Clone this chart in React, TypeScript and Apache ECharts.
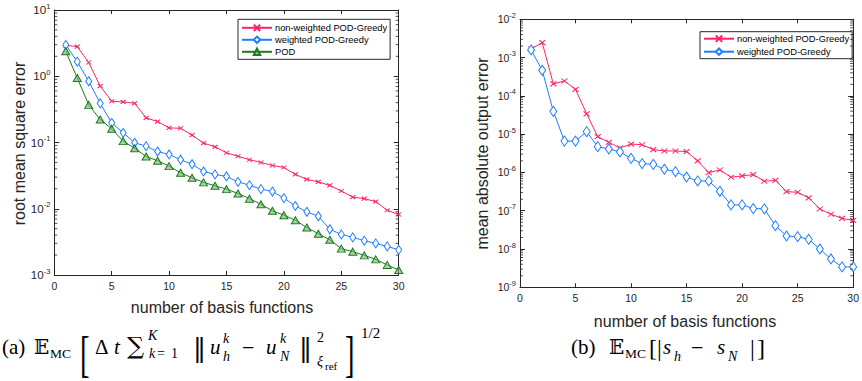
import React, { useEffect, useRef } from "react";
import * as echarts from "echarts";

// ---------- data ----------
const nBasis = [1, 2, 3, 4, 5, 6, 7, 8, 9, 10, 11, 12, 13, 14, 15, 16, 17, 18, 19, 20, 21, 22, 23, 24, 25, 26, 27, 28, 29, 30];

const seriesNames = ["non-weighted POD-Greedy", "weighted POD-Greedy", "POD"];

// (a) root mean square error
const rmsNonWeighted = [2.93, 2.8, 1.61, 0.71, 0.42, 0.41, 0.39, 0.235, 0.207, 0.166, 0.164, 0.129, 0.098, 0.086, 0.07, 0.062, 0.055, 0.05, 0.045, 0.042, 0.033, 0.0277, 0.0255, 0.0225, 0.0185, 0.015, 0.0142, 0.0128, 0.0095, 0.0082];
const rmsWeighted = [2.97, 1.66, 0.84, 0.39, 0.198, 0.14, 0.099, 0.088, 0.073, 0.066, 0.055, 0.047, 0.0365, 0.033, 0.0307, 0.0255, 0.0227, 0.0198, 0.0182, 0.0145, 0.011, 0.009, 0.0077, 0.0049, 0.0041, 0.0037, 0.0033, 0.003, 0.0027, 0.0024];
const rmsPOD = [2.38, 0.94, 0.37, 0.222, 0.161, 0.105, 0.082, 0.0615, 0.053, 0.044, 0.035, 0.0293, 0.025, 0.0222, 0.0198, 0.017, 0.0142, 0.0117, 0.0093, 0.008, 0.0067, 0.0052, 0.0042, 0.0034, 0.0025, 0.00225, 0.00198, 0.00172, 0.00142, 0.00119];

// (b) mean absolute output error
const outNonWeighted = [1.68e-3, 2.46e-3, 2.05e-4, 2.45e-4, 1.48e-4, 3.4e-5, 8.6e-6, 6.1e-6, 4.36e-6, 5.5e-6, 5.3e-6, 3.95e-6, 3.64e-6, 3.64e-6, 3.5e-6, 2.0e-6, 9.9e-7, 1.16e-6, 7.5e-7, 8.1e-7, 8.8e-7, 5.9e-7, 6.2e-7, 3.15e-7, 3.03e-7, 2.16e-7, 1.11e-7, 8.1e-8, 6.3e-8, 5.6e-8];
const outWeighted = [1.58e-3, 4.66e-4, 3.95e-5, 6.6e-6, 6.6e-6, 1.16e-5, 4.72e-6, 4.1e-6, 3.43e-6, 2.34e-6, 1.7e-6, 1.63e-6, 1.21e-6, 1.05e-6, 7.6e-7, 6.0e-7, 6.0e-7, 3.22e-7, 1.42e-7, 1.42e-7, 1.14e-7, 1.12e-7, 4.08e-8, 2.19e-8, 2.1e-8, 1.79e-8, 1.0e-8, 5.5e-9, 3.4e-9, 3.4e-9];

// axis ranges (decades)
const xTicks = [0, 5, 10, 15, 20, 25, 30];
const rmsDecades = [-3, 1];
const outDecades = [-9, -2];

// ---------- style ----------
const RED = "#ff2263";
const BLUE = "#1c7dff";
const GREEN = "#1e7a1e";
const GREEN_FILL = "rgba(110,185,110,0.6)";
const AX = "#262626";
const SANS = '"Liberation Sans", Arial, Helvetica, sans-serif';
const SERIF = '"Liberation Serif", "DejaVu Serif", serif';
const MATHSYM = '"DejaVu Serif", "DejaVu Sans", serif';

const CROSS = "path://M0,0L10,10M10,0L0,10";

function minorValues(dec: number[]) {
  const out: number[] = [];
  for (let e = dec[0]; e < dec[1]; e++) {
    for (let m = 2; m <= 9; m++) out.push(m * Math.pow(10, e));
  }
  return out;
}

function pairs(vals: number[]) {
  return nBasis.map((n, i) => [n, vals[i]]);
}

const expLabel = (v: number) => {
  const e = Math.round(Math.log10(v));
  return "{b|10}{s|" + (e < 0 ? "-" + Math.abs(e) : String(e)) + "}";
};

function axesFor(gi: number, dec: number[], labelSize: number) {
  const xCommon = {
    gridIndex: gi,
    type: "value",
    min: xTicks[0],
    max: xTicks[xTicks.length - 1],
    interval: 5,
    splitLine: { show: false },
    axisLine: { show: true, onZero: false, lineStyle: { color: AX, width: 1 } },
    axisTick: { show: true, inside: true, length: 4, lineStyle: { color: AX } },
  };
  const yCommon = {
    gridIndex: gi,
    type: "log",
    logBase: 10,
    min: Math.pow(10, dec[0]),
    max: Math.pow(10, dec[1]),
    splitNumber: dec[1] - dec[0],
    splitLine: { show: false },
    axisLine: { show: true, onZero: false, lineStyle: { color: AX, width: 1 } },
    axisTick: { show: true, inside: true, length: 5, lineStyle: { color: AX } },
  };
  return {
    x: [
      {
        ...xCommon,
        position: "bottom",
        axisLabel: { show: true, fontSize: 10.5, color: AX, fontFamily: SANS, margin: 5 },
      },
      { ...xCommon, position: "top", axisLabel: { show: false } },
    ],
    y: [
      {
        ...yCommon,
        position: "left",
        axisLabel: {
          show: true,
          margin: 4,
          formatter: expLabel,
          rich: {
            b: { fontSize: labelSize, color: AX, fontFamily: SANS, lineHeight: 16 },
            s: { fontSize: 7.5, color: AX, fontFamily: SANS, verticalAlign: "top", lineHeight: 8 },
          },
        },
      },
      { ...yCommon, position: "right", axisLabel: { show: false } },
    ],
  };
}

function minorTickSeries(xIdx: number, yIdx: number, dec: number[]) {
  return {
    type: "custom",
    xAxisIndex: xIdx,
    yAxisIndex: yIdx,
    silent: true,
    clip: false,
    z: 10,
    encode: { x: 0, y: 1 },
    data: minorValues(dec).map((v) => [xTicks[0], v]),
    renderItem: (params: any, api: any) => {
      const v = api.value(1);
      const a = api.coord([xTicks[0], v]);
      const b = api.coord([xTicks[xTicks.length - 1], v]);
      return {
        type: "group",
        children: [
          { type: "line", shape: { x1: a[0], y1: a[1], x2: a[0] + 3, y2: a[1] }, style: { stroke: AX, lineWidth: 0.8 } },
          { type: "line", shape: { x1: b[0] - 3, y1: b[1], x2: b[0], y2: b[1] }, style: { stroke: AX, lineWidth: 0.8 } },
        ],
      };
    },
  };
}

type Piece = { t: string; x: number; y: number; s: number; i?: boolean; f?: string; sx?: number; sy?: number };

const captionA: Piece[] = [
  { t: "(a)", x: 2, y: 347, s: 21 },
  { t: "\u{1D53C}", x: 34, y: 347, s: 20, f: MATHSYM },
  { t: "MC", x: 50, y: 353, s: 13.5 },
  { t: "[", x: 80, y: 354, s: 44, sx: 0.65, sy: 1.15 },
  { t: "\u0394", x: 95, y: 347, s: 21 },
  { t: "t", x: 114, y: 347, s: 21, i: true },
  { t: "\u2211", x: 127, y: 346, s: 24, f: MATHSYM },
  { t: "K", x: 148, y: 335, s: 14, i: true },
  { t: "k", x: 149, y: 353, s: 14, i: true },
  { t: "=", x: 157, y: 353, s: 14 },
  { t: "1", x: 171, y: 353, s: 14 },
  { t: "\u2016", x: 193, y: 348, s: 26, f: MATHSYM },
  { t: "u", x: 210, y: 347, s: 21, i: true },
  { t: "k", x: 223, y: 338, s: 14, i: true },
  { t: "h", x: 223, y: 356, s: 14, i: true },
  { t: "\u2212", x: 242, y: 347, s: 22 },
  { t: "u", x: 266, y: 347, s: 21, i: true },
  { t: "k", x: 280, y: 338, s: 14, i: true },
  { t: "N", x: 280, y: 356, s: 14, i: true },
  { t: "\u2016", x: 299, y: 348, s: 26, f: MATHSYM },
  { t: "2", x: 317, y: 337, s: 14 },
  { t: "\u03BE", x: 317, y: 361, s: 14, i: true },
  { t: "ref", x: 325, y: 366, s: 11 },
  { t: "]", x: 345, y: 354, s: 44, sx: 0.65, sy: 1.15 },
  { t: "1/2", x: 361, y: 333, s: 15 },
];

const captionB: Piece[] = [
  { t: "(b)", x: 571, y: 347, s: 21 },
  { t: "\u{1D53C}", x: 609, y: 347, s: 20, f: MATHSYM },
  { t: "MC", x: 625, y: 353, s: 13.5 },
  { t: "[", x: 649, y: 348, s: 24 },
  { t: "|", x: 657, y: 348, s: 24 },
  { t: "s", x: 663, y: 347, s: 21, i: true },
  { t: "h", x: 674, y: 356, s: 14, i: true },
  { t: "\u2212", x: 691, y: 347, s: 22 },
  { t: "s", x: 717, y: 347, s: 21, i: true },
  { t: "N", x: 728, y: 356, s: 14, i: true },
  { t: "|", x: 750, y: 348, s: 24 },
  { t: "]", x: 757, y: 348, s: 24 },
];

function pieceEls(pieces: Piece[]) {
  return pieces.map((p) => ({
    type: "text",
    x: p.x,
    y: p.y,
    scaleX: p.sx || 1,
    scaleY: p.sy || 1,
    silent: true,
    style: {
      text: p.t,
      fontSize: p.s,
      fontFamily: p.f || SERIF,
      fontStyle: p.i ? "italic" : "normal",
      fill: "#000",
      align: "left",
      verticalAlign: "middle",
    },
  }));
}

function titleEl(text: string, x: number, y: number, rotate: boolean) {
  return {
    type: "text",
    x,
    y,
    rotation: rotate ? Math.PI / 2 : 0,
    silent: true,
    style: {
      text,
      fontSize: 16,
      fontFamily: SANS,
      fill: AX,
      align: "center",
      verticalAlign: "middle",
    },
  };
}

export default function App() {
  const ref = useRef<HTMLDivElement>(null);
  useEffect(() => {
    if (!ref.current) return;
    const chart = echarts.init(ref.current, null, { renderer: "svg" });
    const a = axesFor(0, rmsDecades, 11.5);
    const b = axesFor(1, outDecades, 10.5);

    const redLine = (name: string, data: number[], xi: number, yi: number, size: number[]) => ({
      name,
      type: "line",
      xAxisIndex: xi,
      yAxisIndex: yi,
      data: pairs(data),
      symbol: CROSS,
      symbolSize: size,
      lineStyle: { color: RED, width: 1 },
      itemStyle: { color: RED, borderColor: RED, borderWidth: 1 },
      z: 3,
    });
    const blueLine = (name: string, data: number[], xi: number, yi: number, size: number[]) => ({
      name,
      type: "line",
      xAxisIndex: xi,
      yAxisIndex: yi,
      data: pairs(data),
      symbol: "diamond",
      symbolSize: size,
      lineStyle: { color: BLUE, width: 1 },
      itemStyle: { color: "#fff", borderColor: BLUE, borderWidth: 1 },
      z: 4,
    });

    const legendBase = {
      orient: "vertical",
      selectedMode: false,
      itemWidth: 30,
      itemHeight: 8,
      backgroundColor: "#fff",
      borderColor: AX,
      borderWidth: 1,
      borderRadius: 0,
      textStyle: { fontSize: 9.3, fontFamily: SANS, color: "#000", padding: [0, 0, 0, -2] },
    };

    chart.setOption({
      animation: false,
      backgroundColor: "#fff",
      grid: [
        { left: 54.3, top: 10, width: 344.4, height: 265, containLabel: false },
        { left: 520, top: 19.3, width: 341, height: 268, containLabel: false },
      ],
      xAxis: [...a.x, ...b.x.map((ax) => ({ ...ax, gridIndex: 1 }))],
      yAxis: [...a.y, ...b.y.map((ax) => ({ ...ax, gridIndex: 1 }))],
      legend: [
        {
          ...legendBase,
          data: seriesNames,
          left: 238,
          top: 19.3,
          itemGap: 3,
          padding: [4, 3, 3, 3],
        },
        {
          ...legendBase,
          data: seriesNames.slice(0, 2),
          left: 700,
          top: 31.7,
          itemGap: 4,
          padding: [2.5, 3, 2.5, 3],
        },
      ],
      series: [
        redLine(seriesNames[0], rmsNonWeighted, 0, 0, [5, 4]),
        blueLine(seriesNames[1], rmsWeighted, 0, 0, [6, 9]),
        {
          name: seriesNames[2],
          type: "line",
          xAxisIndex: 0,
          yAxisIndex: 0,
          data: pairs(rmsPOD),
          symbol: "triangle",
          symbolSize: [8, 7],
          lineStyle: { color: GREEN, width: 1 },
          itemStyle: { color: GREEN_FILL, borderColor: GREEN, borderWidth: 1 },
          z: 5,
        },
        minorTickSeries(0, 0, rmsDecades),
        redLine(seriesNames[0], outNonWeighted, 2, 2, [6, 5]),
        blueLine(seriesNames[1], outWeighted, 2, 2, [7, 10]),
        minorTickSeries(2, 2, outDecades),
      ],
      graphic: [
        titleEl("number of basis functions", 222, 307, false),
        titleEl("root mean square error", 19, 143.5, true),
        titleEl("number of basis functions", 685, 321, false),
        titleEl("mean absolute output error", 482, 153.5, true),
        ...pieceEls(captionA),
        ...pieceEls(captionB),
      ],
    });
    return () => chart.dispose();
  }, []);
  return (
    <div
      ref={ref}
      style={{ position: "fixed", left: 0, top: 0, width: 862, height: 381, background: "#fff" }}
    />
  );
}
